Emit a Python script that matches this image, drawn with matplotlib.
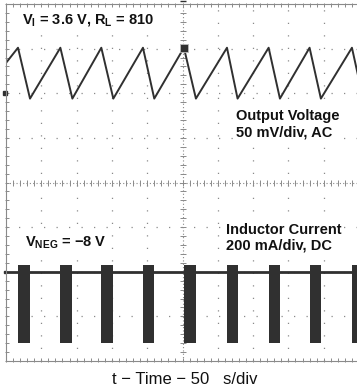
import numpy as np
import matplotlib.pyplot as plt

plt.rcParams['font.family'] = ['Liberation Sans', 'DejaVu Sans']

# output voltage (AC, 50 mV/div), time in us (50 us/div)
vout_t = [0, 17, 34, 77, 94, 135, 152, 194, 210, 252, 269, 313, 328, 372, 388, 430, 446, 490, 500]
vout_mv = [34, 51, -6, 51, -6, 51, -6, 51, -6, 51, -6, 51, -6, 51, -6, 51, -6, 51, 15]

# inductor current switching bursts (200 mA/div, DC)
burst_start = [17, 77, 135, 194, 252, 313, 372, 430, 490]
burst_end = [34, 94, 152, 210, 269, 328, 388, 446, 500]
burst_hi_ma = 30
burst_lo_ma = -320

V_GND = 6.0   # channel 1 ground, divisions
I_GND = 2.0   # channel 2 ground, divisions
V_SCALE = 50.0
I_SCALE = 200.0
trig_idx = 9

ink = '#303030'
grid_c = '#8a8a8a'

fig = plt.figure(figsize=(3.57, 3.92), dpi=100)
W, H = 357, 392
ax = fig.add_axes([6 / W, (H - 361) / H, 353 / W, 357 / H])
ax.set_xlim(0, 500)
ax.set_ylim(0, 8)
ax.set_xticks([])
ax.set_yticks([])
for s in ax.spines.values():
    s.set_color(grid_c)
    s.set_linewidth(0.8)

# graticule
for gx in np.arange(50, 500, 50):
    if gx != 250:
        ax.axvline(gx, color=grid_c, lw=0.9, ls=(0, (1, 9)))
for gy in range(1, 8):
    if gy != 4:
        ax.axhline(gy, color=grid_c, lw=0.9, ls=(0, (1, 9)))
ax.axvline(250, color=grid_c, lw=0.8, ls=(0, (1, 2)))
ax.axhline(4, color=grid_c, lw=0.8, ls=(0, (1, 2)))
mx = np.arange(0, 501, 10)
my = np.arange(0, 8.01, 0.2)
ax.plot(mx, np.full_like(mx, 4.0, dtype=float), '|', color=grid_c, ms=4, mew=0.7)
ax.plot(np.full_like(my, 250.0), my, '_', color=grid_c, ms=4, mew=0.7)
ax.plot(mx, np.full_like(mx, 0.03, dtype=float), '|', color=grid_c, ms=3, mew=0.7, clip_on=False)
ax.plot(mx, np.full_like(mx, 7.97, dtype=float), '|', color=grid_c, ms=3, mew=0.7, clip_on=False)
ax.plot(np.full_like(my, 2.0), my, '_', color=grid_c, ms=3, mew=0.7, clip_on=False)

# traces
vy = V_GND + np.array(vout_mv) / V_SCALE
ax.plot(vout_t, vy, color=ink, lw=1.4)
ax.plot(vout_t[trig_idx], vy[trig_idx], 's', color=ink, ms=6, mec='#bbbbbb', mew=0.6, zorder=5)

ax.plot([0, 500], [I_GND, I_GND], color=ink, lw=2.0)
for a, b in zip(burst_start, burst_end):
    ax.fill_between([a, b], I_GND + burst_lo_ma / I_SCALE, I_GND + burst_hi_ma / I_SCALE,
                    color=ink, lw=0, zorder=4)

# ground / trigger markers
ax.plot(-1.5, V_GND, marker='s', color=ink, ms=3, clip_on=False)
ax.plot(-1.5, I_GND, marker='s', color=ink, ms=2, clip_on=False)
ax.plot(250, 8.07, marker='_', color=ink, ms=4, clip_on=False)

# annotations
ax.text(22, 7.63, r'V$_\mathregular{I}$ = 3.6 V, R$_\mathregular{L}$ = 810', fontsize=10.5,
        fontweight='bold', va='center', color='#111111',
        bbox=dict(fc='white', ec='none', pad=1.5))
ax.text(326, 5.31, 'Output Voltage\n50 mV/div, AC', fontsize=10.5, fontweight='bold',
        va='center', color='#111111', linespacing=1.2,
        bbox=dict(fc='white', ec='none', pad=1))
ax.text(311, 2.76, 'Inductor Current\n200 mA/div, DC', fontsize=10.5, fontweight='bold',
        va='center', color='#111111', linespacing=1.2,
        bbox=dict(fc='white', ec='none', pad=1))
ax.text(27, 2.66, r'V$_\mathregular{NEG}$ = −8 V', fontsize=10.5, fontweight='bold',
        va='center', color='#111111', bbox=dict(fc='white', ec='none', pad=1))

fig.text(185 / W, 1 - 380 / H, 't − Time − 50   s/div', fontsize=12, ha='center',
         va='center', color='#111111')

fig.savefig('out.png', dpi=100)
